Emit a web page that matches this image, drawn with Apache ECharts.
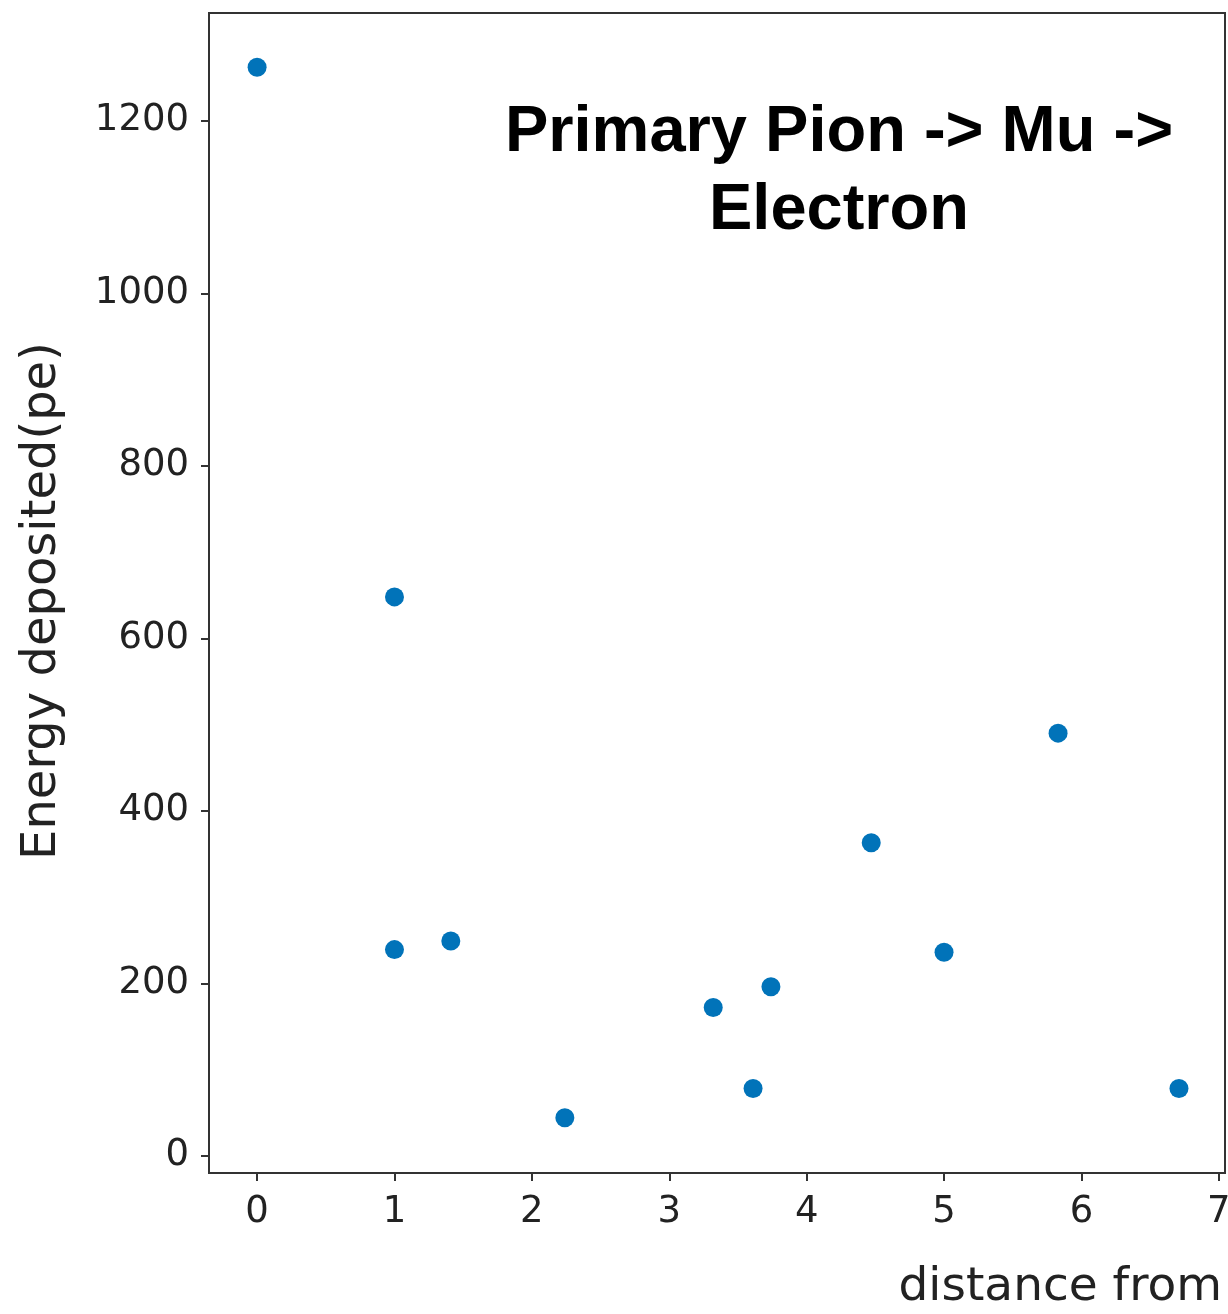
<!DOCTYPE html>
<html>
<head>
<meta charset="utf-8">
<script src="https://cdn.jsdelivr.net/npm/echarts@6/dist/echarts.min.js"></script>
<style>
html,body{margin:0;padding:0;background:#fff;}
#c{width:1228px;height:1314px;}
</style>
</head>
<body>
<div id="c"></div>
<script>
// Data
const distance = [0, 1, 1, 1.41, 2.24, 3.32, 3.61, 3.74, 4.47, 5.0, 5.83, 6.71];
const energy   = [1262, 648, 239, 249, 44, 172, 78, 196, 363, 236, 490, 78];
const xTicks = [0, 1, 2, 3, 4, 5, 6, 7];
const yTicks = [0, 200, 400, 600, 800, 1000, 1200];
const titleText = 'Primary Pion -> Mu ->\nElectron';
const xName = 'distance from';
const yName = 'Energy deposited(pe)';

const points = distance.map((d, i) => [d, energy[i]]);
const chart = echarts.init(document.getElementById('c'), null, {renderer: 'canvas'});
const axisColor = '#333';
const labelFont = {fontFamily: 'DejaVu Sans', fontSize: 37, color: '#222'};

chart.setOption({
  animation: false,
  backgroundColor: '#fff',
  grid: {left: 209, top: 13, width: 1016, height: 1160, containLabel: false, outerBoundsMode: 'none',
         show: true, borderColor: axisColor, borderWidth: 2, backgroundColor: 'transparent'},
  xAxis: {
    type: 'value', min: -0.35, max: 7.045,
    splitLine: {show: false},
    axisLine: {show: true, onZero: false, lineStyle: {color: axisColor, width: 2}},
    axisTick: {show: true, length: 8, lineStyle: {color: axisColor, width: 2}, customValues: xTicks},
    axisLabel: Object.assign({margin: 21, customValues: xTicks, hideOverlap: false,
                              formatter: v => String(v)}, labelFont)
  },
  yAxis: {
    type: 'value', min: -20, max: 1325,
    splitLine: {show: false},
    axisLine: {show: true, onZero: false, lineStyle: {color: axisColor, width: 2}},
    axisTick: {show: true, length: 8, lineStyle: {color: axisColor, width: 2}, customValues: yTicks},
    axisLabel: Object.assign({margin: 20, customValues: yTicks, hideOverlap: false,
                              formatter: v => String(v)}, labelFont)
  },
  series: [{
    type: 'scatter',
    data: points,
    symbol: 'circle',
    symbolSize: 19,
    itemStyle: {color: '#0173B9', opacity: 1}
  }],
  graphic: [
    {type: 'text', x: 839, y: 94, z: 10,
     style: {text: titleText, fill: '#000', align: 'center', verticalAlign: 'top',
             font: 'bold 65px "Liberation Sans", Arial, sans-serif', lineHeight: 78}},
    {type: 'text', x: 43, y: 601, rotation: Math.PI / 2, z: 10,
     style: {text: yName, fill: '#222', align: 'center', verticalAlign: 'middle',
             font: '48px "DejaVu Sans"'}},
    {type: 'text', x: 1222, y: 1288, z: 10,
     style: {text: xName, fill: '#222', align: 'right', verticalAlign: 'middle',
             font: '47px "DejaVu Sans"'}}
  ]
});
</script>
</body>
</html>
